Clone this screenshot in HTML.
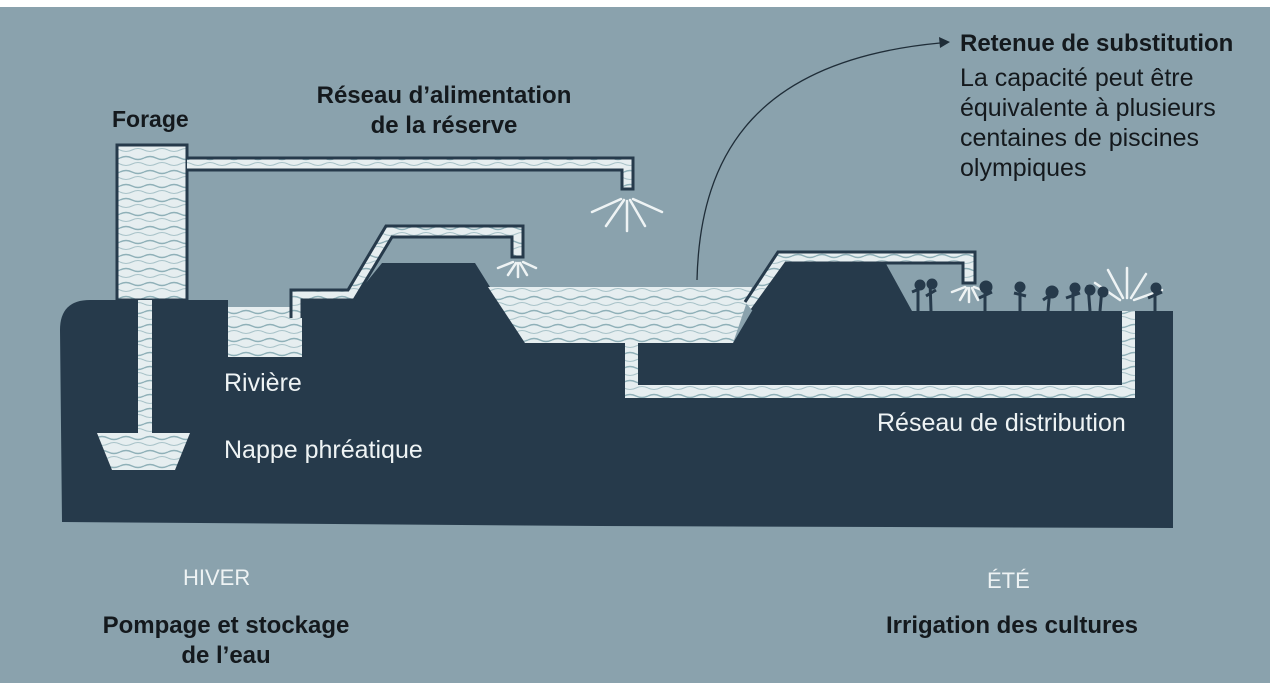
<!DOCTYPE html>
<html><head><meta charset="utf-8"><style>
html,body{margin:0;padding:0;background:#fff;}
svg{display:block}
text{font-family:"Liberation Sans",sans-serif;}
</style></head><body>
<svg width="1270" height="683" viewBox="0 0 1270 683" xmlns="http://www.w3.org/2000/svg">
<defs>
<pattern id="tx" width="24" height="14" patternUnits="userSpaceOnUse">
<rect width="24" height="14" fill="#e6eef0"/>
<path d="M0 4 Q6 1 12 4 T24 4" stroke="#8fb0b8" stroke-width="1.4" fill="none"/>
<path d="M0 10 Q6 13 12 10 T24 10" stroke="#a9c3c9" stroke-width="1.1" fill="none"/>
</pattern>
</defs>
<rect x="0" y="7" width="1270" height="676" fill="#8aa2ad"/>
<!-- ground -->
<path d="M60 330 Q60 300 90 300 L228 300 L228 357 L302 357 L302 300 L352 300 L382 263 L475 263 L525 343 L625 343 L625 398 L1135 398 L1135 311 L1173 311 L1173 528 L600 526 L62 522 Z" fill="#263a4b"/>
<path d="M638 343 L733 343 L785 255 L885 262 L912 311 L1122 311 L1122 385 L638 385 Z" fill="#263a4b"/>
<!-- water reservoir -->
<path d="M488 287 L752 287 L733 343 L525 343 Z" fill="url(#tx)"/>
<!-- river -->
<path d="M228 307 L302 307 L302 357 L228 357 Z" fill="url(#tx)"/>
<!-- distribution pipe -->
<path d="M625 343 L638 343 L638 385 L1122 385 L1122 311 L1135 311 L1135 398 L625 398 Z" fill="url(#tx)"/>
<!-- forage tower -->
<rect x="117" y="145" width="70" height="155" fill="url(#tx)" stroke="#263a4b" stroke-width="3"/>
<rect x="138" y="300" width="14" height="150" fill="url(#tx)"/>
<path d="M97 433 L190 433 L175 470 L112 470 Z" fill="url(#tx)"/>
<!-- top pipe -->
<path d="M187 158 L633 158 L633 189 L622 189 L622 170 L187 170" fill="url(#tx)" stroke="#263a4b" stroke-width="3"/>
<!-- pipe2 -->
<path d="M291 318 L291 290 L348 290 L386 226 L523 226 L523 257 L512 257 L512 237 L392 237 L354 300 L302 300 L302 318" fill="url(#tx)" stroke="#263a4b" stroke-width="3"/>
<!-- pipe3 -->
<path d="M745 302 L778 252 L975 252 L975 283 L963 283 L963 263 L786 263 L752 310" fill="url(#tx)" stroke="#263a4b" stroke-width="3"/>
<!-- sprays -->
<g stroke="#eef3f4" stroke-width="2.5" stroke-linecap="round">
<path d="M621 199 L592 212 M624 200 L606 226 M627 201 L627 231 M630 200 L645 226 M633 199 L662 212"/>
<path d="M513 262 L498 268 M516 263 L508 275 M518 263 L518 277 M520 263 L527 275 M523 262 L536 268"/>
<path d="M965 287 L952 292 M967 288 L960 300 M969 288 L969 302 M972 288 L978 300 M974 287 L987 292"/>
<path d="M1120 300 L1095 283 M1123 298 L1108 270 M1127 298 L1127 268 M1131 298 L1146 274 M1134 300 L1162 290"/>
</g>
<!-- plants -->
<g stroke="#263a4b" stroke-width="3" fill="#263a4b">
<path d="M918 311 L918 282 M912 292 L924 287 M931 311 L930 280 M936 290 L926 296 M985 311 L985 285 M992 292 L979 298 M1020 311 L1020 283 M1014 293 L1026 296 M1048 311 L1050 288 M1058 290 L1043 300 M1073 311 L1073 285 M1080 293 L1066 298 M1090 311 L1088 285 M1100 311 L1102 288 M1155 311 L1155 284 M1162 292 L1148 298"/>
<circle cx="920" cy="285" r="4"/><circle cx="932" cy="284" r="4"/><circle cx="986" cy="287" r="5"/><circle cx="1020" cy="287" r="4"/><circle cx="1052" cy="292" r="5"/><circle cx="1075" cy="288" r="4"/><circle cx="1090" cy="290" r="4"/><circle cx="1103" cy="292" r="4"/><circle cx="1156" cy="288" r="4"/>
</g>
<!-- arrow -->
<path d="M697 280 C700 150 760 60 940 43" stroke="#1f2d38" stroke-width="1.3" fill="none"/>
<path d="M950 42 L939 37 L940 48 Z" fill="#1f2d38"/>
<!-- texts -->
<g fill="#14191d" font-size="24">
<text x="112" y="127" font-weight="bold" font-size="23">Forage</text>
<text x="444" y="103" font-weight="bold" text-anchor="middle">Réseau d’alimentation</text>
<text x="444" y="133" font-weight="bold" text-anchor="middle">de la réserve</text>
<text x="960" y="51" font-weight="bold">Retenue de substitution</text>
<g font-size="25">
<text x="960" y="86">La capacité peut être</text>
<text x="960" y="116">équivalente à plusieurs</text>
<text x="960" y="146">centaines de piscines</text>
<text x="960" y="176">olympiques</text>
</g>
<text x="226" y="633" font-weight="bold" text-anchor="middle">Pompage et stockage</text>
<text x="226" y="663" font-weight="bold" text-anchor="middle">de l’eau</text>
<text x="1012" y="633" font-weight="bold" text-anchor="middle">Irrigation des cultures</text>
</g>
<g fill="#eef3f4" font-size="25">
<text x="224" y="391">Rivière</text>
<text x="224" y="458">Nappe phréatique</text>
<text x="877" y="431">Réseau de distribution</text>
<text x="183" y="585" font-size="22">HIVER</text>
<text x="987" y="588" font-size="22">ÉTÉ</text>
</g>
</svg>
</body></html>
